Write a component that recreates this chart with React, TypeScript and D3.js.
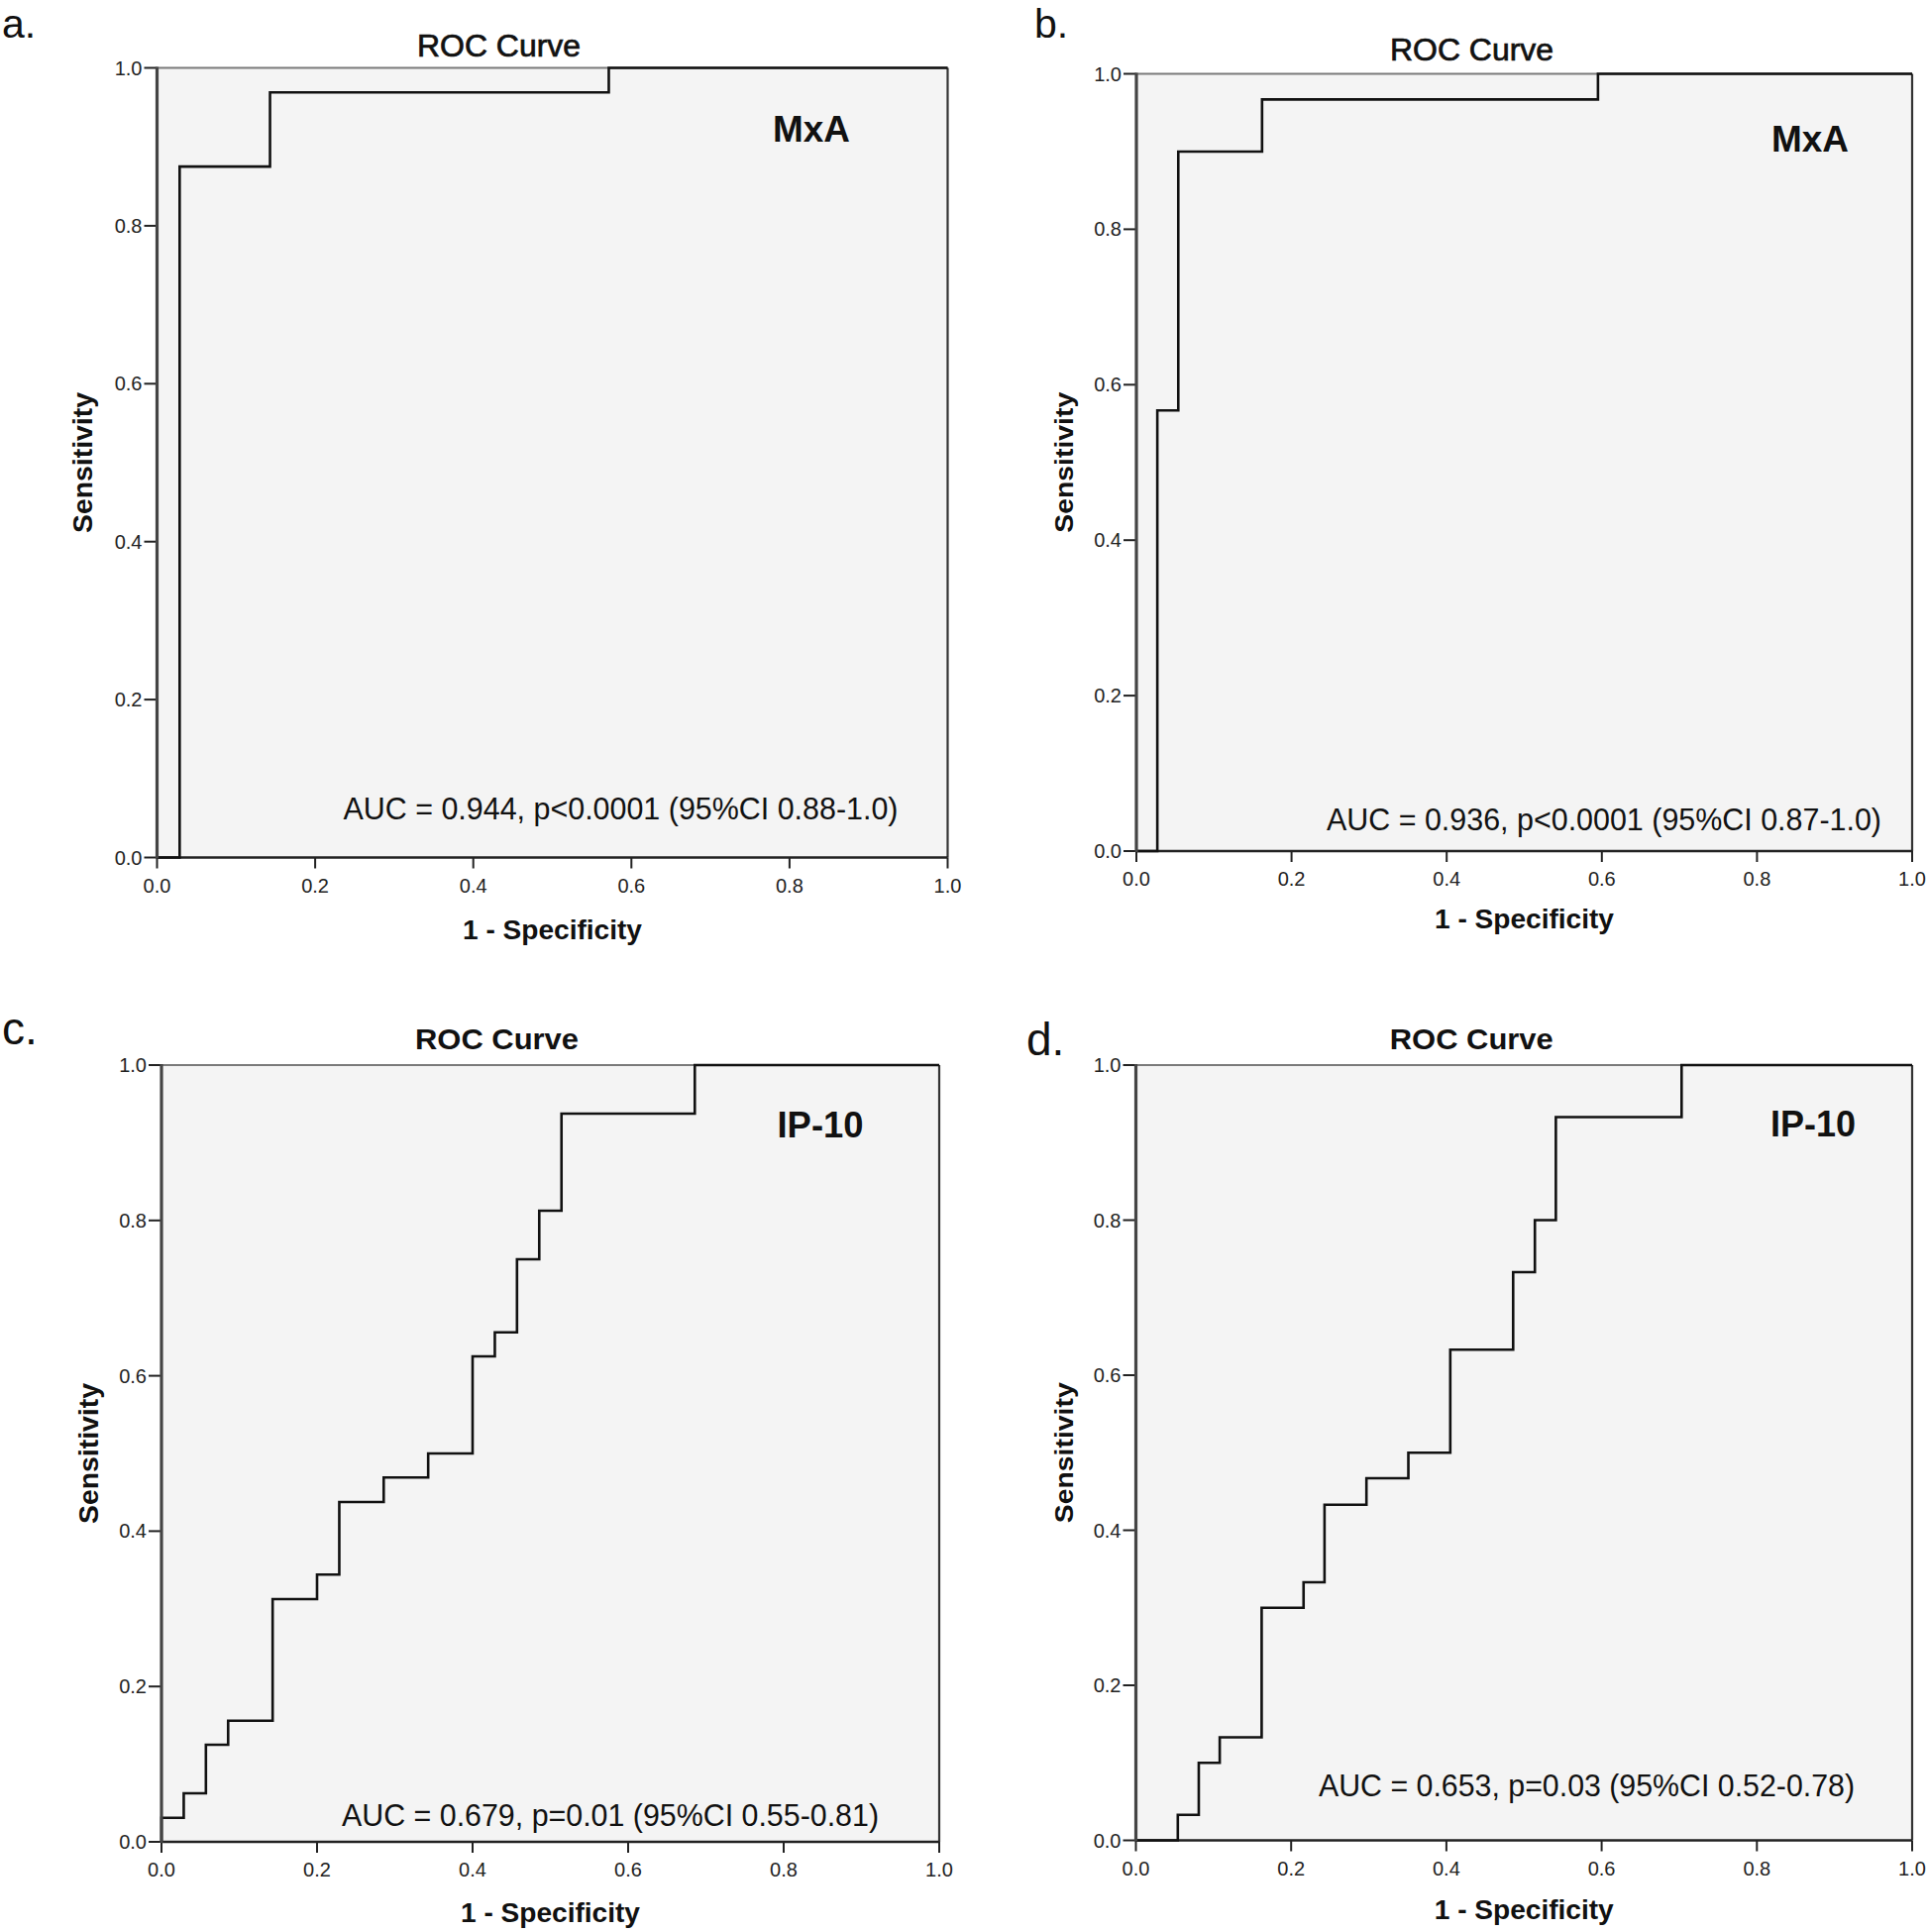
import React from "react";
import * as d3 from "d3";

// ---------- data ----------
const xTicks = [0, 0.2, 0.4, 0.6, 0.8, 1.0];
const yTicks = [0, 0.2, 0.4, 0.6, 0.8, 1.0];

const fprA = [0, 0.0286, 0.1429, 0.5714, 1];
const tprA = [0, 0.875, 0.969, 1, 1];

const fprB = [0, 0.027, 0.054, 0.162, 0.595, 1];
const tprB = [0, 0.567, 0.9, 0.967, 1, 1];

const fprC = [0, 0, 0.0286, 0.0571, 0.0857, 0.1429, 0.2, 0.2286, 0.2857, 0.3429, 0.4, 0.4286, 0.4571, 0.4857, 0.5143, 0.6857, 1];
const tprC = [0, 0.031, 0.0625, 0.125, 0.156, 0.3125, 0.344, 0.4375, 0.469, 0.5, 0.625, 0.656, 0.75, 0.8125, 0.9375, 1, 1];

const fprD = [0, 0.054, 0.081, 0.108, 0.162, 0.216, 0.243, 0.297, 0.351, 0.405, 0.486, 0.514, 0.541, 0.703, 1];
const tprD = [0, 0.033, 0.1, 0.133, 0.3, 0.333, 0.433, 0.467, 0.5, 0.633, 0.733, 0.8, 0.933, 1, 1];

const panelLetters = ["a.", "b.", "c.", "d."];
const markers = ["MxA", "MxA", "IP-10", "IP-10"];
const aucLabels = [
  "AUC = 0.944, p<0.0001 (95%CI 0.88-1.0)",
  "AUC = 0.936, p<0.0001 (95%CI 0.87-1.0)",
  "AUC = 0.679, p=0.01 (95%CI 0.55-0.81)",
  "AUC = 0.653, p=0.03 (95%CI 0.52-0.78)",
];
const chartTitle = "ROC Curve";
const xTitle = "1 - Specificity";
const yTitle = "Sensitivity";

// ---------- layout ----------
const layouts = [
  { x0: 158.5, x1: 956.5, y0: 865.5, y1: 68.5, letter: [2, 38, 41], title: 57, marker: [819, 143, 78], auc: [346.5, 827, 560], xt: 948, ytx: 93 },
  { x0: 1147, x1: 1930, y0: 859, y1: 74.5, letter: [1044, 38, 41], title: 61, marker: [1827, 153, 78], auc: [1339, 838, 560], xt: 937, ytx: 1083 },
  { x0: 163, x1: 948, y0: 1859, y1: 1075, letter: [2, 1054, 46], title: 1059, marker: [828, 1148, 87], auc: [345, 1843, 542], xt: 1940, ytx: 99 },
  { x0: 1146.5, x1: 1930, y0: 1857.5, y1: 1075, letter: [1036, 1065, 46], title: 1059, marker: [1830, 1147, 86], auc: [1331, 1813, 541], xt: 1937, ytx: 1083 },
];

const series = [
  { fpr: fprA, tpr: tprA },
  { fpr: fprB, tpr: tprB },
  { fpr: fprC, tpr: tprC },
  { fpr: fprD, tpr: tprD },
];

const SANS = "Arial, 'Liberation Sans', Helvetica, sans-serif";

function Panel({ i }: { i: number }) {
  const L = layouts[i];
  const s = series[i];
  const x = d3.scaleLinear().domain([0, 1]).range([L.x0, L.x1]);
  const y = d3.scaleLinear().domain([0, 1]).range([L.y0, L.y1]);
  const pts: [number, number][] = s.fpr.map((f, k) => [f, s.tpr[k]]);
  const line = d3
    .line<[number, number]>()
    .x((d) => x(d[0]))
    .y((d) => y(d[1]))
    .curve(d3.curveStepAfter);
  const cx = (L.x0 + L.x1) / 2;
  const cy = (L.y0 + L.y1) / 2;
  const bold = i >= 2;
  return (
    <g>
      <text x={L.letter[0]} y={L.letter[1]} fontFamily={SANS} fontSize={L.letter[2]} fill="#111">
        {panelLetters[i]}
      </text>
      <text
        x={cx + (i % 2 === 1 ? -53 : -54)}
        y={L.title}
        fontFamily={SANS}
        fontSize={bold ? 30 : 31}
        fontWeight={bold ? "bold" : "normal"}
        textAnchor="middle"
        textLength={165}
        lengthAdjust="spacingAndGlyphs"
        fill="#111"
        stroke={bold ? "none" : "#111"}
        strokeWidth={bold ? 0 : 0.7}
      >
        {chartTitle}
      </text>
      <rect x={L.x0} y={L.y1} width={L.x1 - L.x0} height={L.y0 - L.y1} fill="#f4f4f4" />
      {/* frame */}
      <line x1={L.x0} x2={L.x1} y1={L.y1} y2={L.y1} stroke="#7a7a7a" strokeWidth={2} />
      <line x1={L.x1} x2={L.x1} y1={L.y1} y2={L.y0} stroke="#333" strokeWidth={2.2} />
      {/* ticks */}
      {xTicks.map((t) => (
        <g key={"x" + t}>
          <line x1={x(t)} x2={x(t)} y1={L.y0} y2={L.y0 + 11} stroke="#222" strokeWidth={2} />
          <text x={x(t)} y={L.y0 + 35} fontFamily={SANS} fontSize={20} textAnchor="middle" fill="#222">
            {t.toFixed(1)}
          </text>
        </g>
      ))}
      {yTicks.map((t) => (
        <g key={"y" + t}>
          <line x1={L.x0 - 13} x2={L.x0} y1={y(t)} y2={y(t)} stroke="#222" strokeWidth={2} />
          <text x={L.x0 - 15} y={y(t) + 7} fontFamily={SANS} fontSize={20} textAnchor="end" fill="#222">
            {t.toFixed(1)}
          </text>
        </g>
      ))}
      <line x1={L.x0} x2={L.x1} y1={L.y0} y2={L.y0} stroke="#222" strokeWidth={2.5} />
      <path d={line(pts) || ""} fill="none" stroke="#111" strokeWidth={2.6} strokeLinejoin="miter" />
      <line x1={L.x0} x2={L.x0} y1={L.y1 - 1} y2={L.y0 + 1} stroke="#444" strokeWidth={3.2} />
      {/* labels */}
      <text
        x={L.marker[0]}
        y={L.marker[1]}
        fontFamily={SANS}
        fontSize={37}
        fontWeight="bold"
        textAnchor="middle"
        textLength={L.marker[2]}
        lengthAdjust="spacingAndGlyphs"
        fill="#111"
      >
        {markers[i]}
      </text>
      <text
        x={L.auc[0]}
        y={L.auc[1]}
        fontFamily={SANS}
        fontSize={32}
        textLength={L.auc[2]}
        lengthAdjust="spacingAndGlyphs"
        fill="#111"
      >
        {aucLabels[i]}
      </text>
      <text
        x={cx}
        y={L.xt}
        fontFamily={SANS}
        fontSize={27}
        fontWeight="bold"
        textAnchor="middle"
        textLength={181}
        lengthAdjust="spacingAndGlyphs"
        fill="#111"
      >
        {xTitle}
      </text>
      <text
        transform={`translate(${L.ytx},${cy}) rotate(-90)`}
        fontFamily={SANS}
        fontSize={i === 1 || i === 3 ? 25 : 27}
        fontWeight="bold"
        textAnchor="middle"
        textLength={142}
        lengthAdjust="spacingAndGlyphs"
        fill="#111"
      >
        {yTitle}
      </text>
    </g>
  );
}

export default function App() {
  return (
    <svg
      width={1946}
      height={1950}
      viewBox="0 0 1946 1950"
      style={{ position: "absolute", left: 0, top: 0, background: "#fff" }}
    >
      <rect x={0} y={0} width={1946} height={1950} fill="#fff" />
      {[0, 1, 2, 3].map((i) => (
        <Panel key={i} i={i} />
      ))}
    </svg>
  );
}
